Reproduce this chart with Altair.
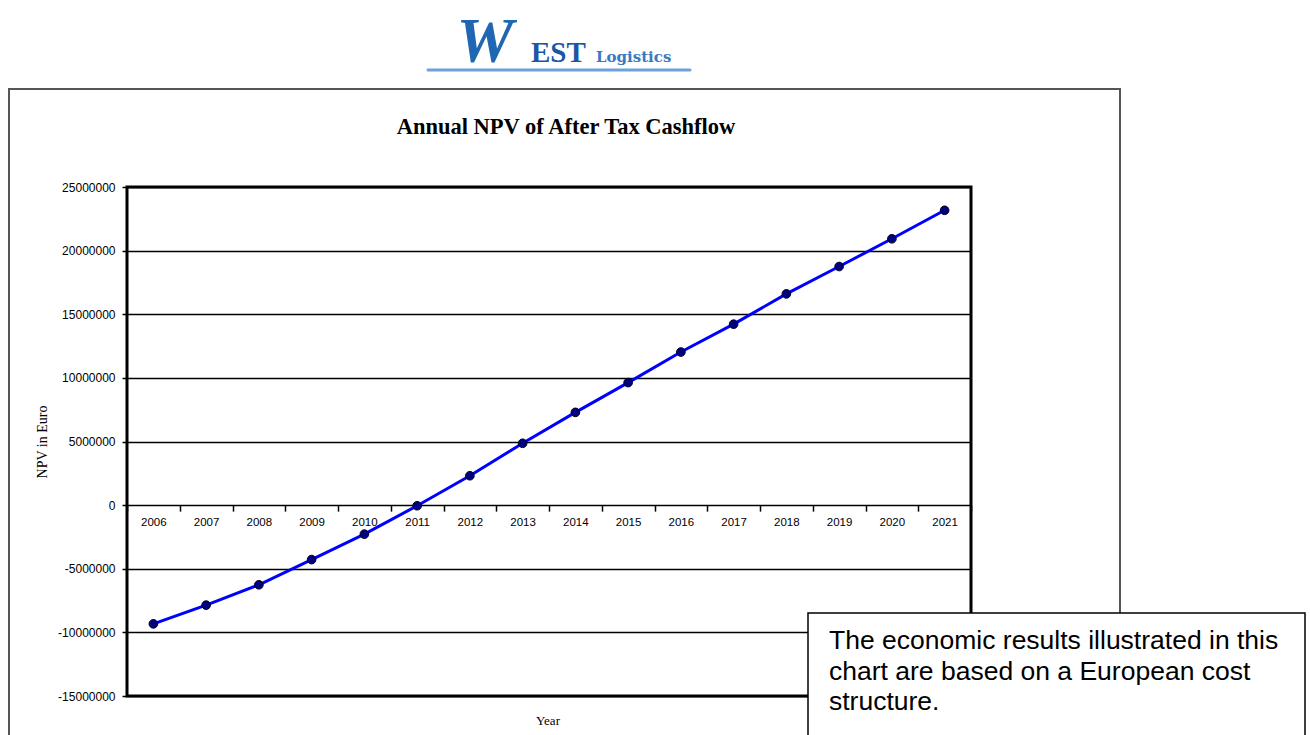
import altair as alt
import pandas as pd

# ---- data ----
years = ["2006", "2007", "2008", "2009", "2010", "2011", "2012", "2013",
         "2014", "2015", "2016", "2017", "2018", "2019", "2020", "2021"]
npv = [-9330000, -7860000, -6260000, -4280000, -2280000, -50000, 2310000, 4860000,
       7290000, 9630000, 12030000, 14220000, 16600000, 18750000, 20930000, 23170000]
y_ticks = [-15000000, -10000000, -5000000, 0, 5000000, 10000000, 15000000, 20000000, 25000000]

chart_title = "Annual NPV of After Tax Cashflow"
y_title = "NPV in Euro"
x_title = "Year"
note_lines = ["The economic results illustrated in this",
              "chart are based on a European cost",
              "structure."]

df = pd.DataFrame({"Year": years, "NPV": npv})
one = pd.DataFrame({"k": [0]})

W, H = 844, 509
L, T = 127, 187
ymin, ymax = -15000000, 25000000
zero_px = H * ymax / (ymax - ymin)

x_enc = alt.X("Year:O", sort=years,
              scale=alt.Scale(type="band", paddingInner=0, paddingOuter=0),
              axis=alt.Axis(title=None, orient="bottom", offset=-(H - zero_px),
                            domain=False, ticks=True, tickBand="extent",
                            tickSize=6, tickColor="black", tickWidth=1.5,
                            labelAngle=0, labelPadding=5,
                            labelFont="Liberation Sans", labelFontSize=11.5,
                            labelColor="black", grid=False))
y_enc = alt.Y("NPV:Q",
              scale=alt.Scale(domain=[ymin, ymax], nice=False, zero=False),
              axis=alt.Axis(title=y_title, values=y_ticks,
                            labelExpr="'' + datum.value",
                            domain=False, ticks=True, tickSize=5, tickColor="black",
                            tickWidth=1.5, labelPadding=7,
                            labelFont="Liberation Sans", labelFontSize=12,
                            labelColor="black",
                            grid=True, gridColor="black", gridWidth=1.5, gridOpacity=1,
                            titleFont="Liberation Serif", titleFontSize=14,
                            titleFontWeight="normal", titleColor="black",
                            titleX=-85, titleY=H / 2, titleAngle=-90,
                            titleAlign="center", titleBaseline="middle"))

line = alt.Chart(df).mark_line(color="#0000ff", strokeWidth=3).encode(x=x_enc, y=y_enc)
pts = alt.Chart(df).mark_point(filled=True, color="#000080", size=75, opacity=1,
                               stroke="#000022", strokeWidth=1).encode(x=x_enc, y=y_enc)

frame = alt.Chart(one).mark_rect(fill="white", fillOpacity=0, stroke="#555555",
                                 strokeWidth=2).encode(
    x=alt.value(9 - L), x2=alt.value(1120 - L),
    y=alt.value(89 - T), y2=alt.value(760 - T))

title = alt.Chart(one).mark_text(text=chart_title, font="Liberation Serif",
                                 fontSize=22.5, fontWeight="bold", color="black",
                                 align="center", baseline="alphabetic").encode(
    x=alt.value(566 - L), y=alt.value(134 - T))

xtitle = alt.Chart(one).mark_text(text=x_title, font="Liberation Serif",
                                  fontSize=13, color="black",
                                  align="center", baseline="middle").encode(
    x=alt.value(548 - L), y=alt.value(721 - T))

# logo (text approximation)
logo_w = alt.Chart(one).mark_text(text="W", font="Liberation Serif", fontSize=64,
                                  fontWeight="bold", fontStyle="italic",
                                  color="#1f66b3", align="center",
                                  baseline="alphabetic").encode(
    x=alt.value(485 - L), y=alt.value(62 - T))
logo_est = alt.Chart(one).mark_text(text="EST", font="Liberation Serif", fontSize=29,
                                    fontWeight="bold", color="#1a57a6", align="left",
                                    baseline="alphabetic").encode(
    x=alt.value(531 - L), y=alt.value(62 - T))
logo_log = alt.Chart(one).mark_text(text="Logistics", font="DejaVu Serif", fontSize=15,
                                    fontWeight="bold", color="#3a78c2", align="left",
                                    baseline="alphabetic").encode(
    x=alt.value(596 - L), y=alt.value(62 - T))
logo_wave = alt.Chart(one).mark_rule(color="#4a8ad0", strokeWidth=3, strokeCap="round",
                                     opacity=0.8).encode(
    x=alt.value(428 - L), x2=alt.value(690 - L), y=alt.value(70 - T))

note_box = alt.Chart(one).mark_rect(fill="white", stroke="black", strokeWidth=1.5).encode(
    x=alt.value(808 - L), x2=alt.value(1305 - L),
    y=alt.value(613 - T), y2=alt.value(760 - T))
note_text = alt.Chart(one).mark_text(text=note_lines, font="Liberation Sans",
                                     fontSize=26.5, color="black", align="left",
                                     baseline="alphabetic", lineHeight=30.5).encode(
    x=alt.value(829 - L), y=alt.value(649 - T))

chart = alt.layer(frame, logo_wave, logo_w, logo_est, logo_log, title, xtitle,
                  line, pts, note_box, note_text).properties(
    width=W, height=H,
    autosize=alt.AutoSizeParams(type="none"),
    padding={"left": L, "top": T, "right": 1310 - L - W, "bottom": 735 - T - H},
    background="white",
).configure_view(stroke="black", strokeWidth=3)

chart.save("out.html", embed_options={"renderer": "svg", "actions": False})
